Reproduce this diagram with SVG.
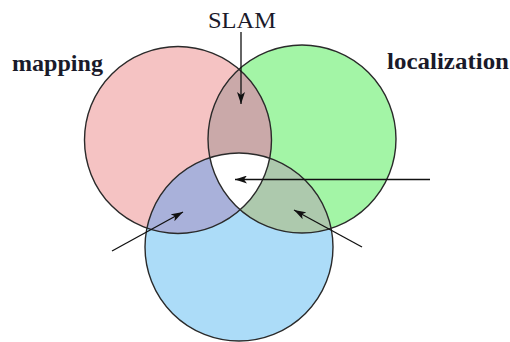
<svg xmlns="http://www.w3.org/2000/svg" width="510" height="342" viewBox="0 0 510 342">
<style>
.ring{fill:none;stroke:#2a2a2a;stroke-width:1.4}
.lbl{font-family:"Liberation Serif","Times New Roman",serif;font-size:23px;fill:#1a1a2a}
.b{font-weight:bold}
.arr{stroke:#111;stroke-width:1.3;fill:none;marker-end:url(#ah)}
</style>
<defs>
<marker id="ah" viewBox="0 0 12 8" refX="12" refY="4" markerWidth="12" markerHeight="8" markerUnits="userSpaceOnUse" orient="auto">
<path d="M0,0 L12,4 L0,8 L3,4 Z" fill="#111"/>
</marker>
<circle id="cR" cx="178" cy="140" r="93.5"/>
<circle id="cG" cx="302" cy="139" r="94"/>
<circle id="cB" cx="239" cy="247" r="94"/>
<clipPath id="clipG"><use href="#cG"/></clipPath>
<clipPath id="clipB"><use href="#cB"/></clipPath>
</defs>
<rect width="510" height="342" fill="#fff"/>
<g id="mapping">
<use href="#cR" fill="#f5c3c3"/>
<text class="lbl b" x="12" y="71" textLength="91" lengthAdjust="spacingAndGlyphs">mapping</text>
</g>
<g id="localization">
<use href="#cG" fill="#a3f5a6"/>
<text class="lbl b" x="387" y="69" textLength="122" lengthAdjust="spacingAndGlyphs">localization</text>
</g>
<g id="third">
<use href="#cB" fill="#acdcf8"/>
</g>
<g id="overlaps">
<use href="#cR" fill="#caa9a9" clip-path="url(#clipG)"/>
<use href="#cR" fill="#a9b1da" clip-path="url(#clipB)"/>
<use href="#cG" fill="#adc9ad" clip-path="url(#clipB)"/>
<g clip-path="url(#clipB)"><use href="#cR" fill="#fff" clip-path="url(#clipG)"/></g>
</g>
<g id="outlines">
<use href="#cR" class="ring"/>
<use href="#cG" class="ring"/>
<use href="#cB" class="ring"/>
</g>
<g id="connectors">
<text class="lbl" x="208" y="28" textLength="68" lengthAdjust="spacingAndGlyphs">SLAM</text>
<line class="arr" x1="241" y1="32" x2="241" y2="104"/>
<line class="arr" x1="430" y1="179.5" x2="235" y2="179.5"/>
<line class="arr" x1="112" y1="251" x2="183" y2="212"/>
<line class="arr" x1="362" y1="247" x2="294" y2="210"/>
</g>
</svg>
